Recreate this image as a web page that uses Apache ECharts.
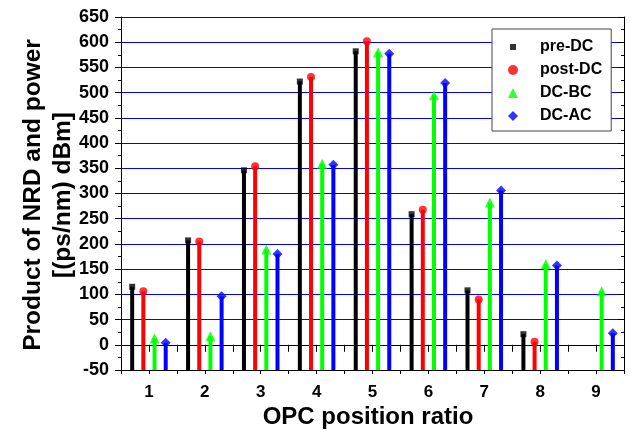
<!DOCTYPE html>
<html>
<head>
<meta charset="utf-8">
<script src="https://cdn.jsdelivr.net/npm/echarts@6/dist/echarts.min.js"></script>
<style>html,body{margin:0;padding:0;background:#fff}#c{width:631px;height:432px}</style>
</head>
<body>
<div id="c"></div>
<script>
const positions = [1, 2, 3, 4, 5, 6, 7, 8, 9];
const preDC  = [115, 207, 346, 522, 582, 259, 108, 21, null];
const postDC = [106, 205, 354, 531, 602, 268, 90, 6, null];
const dcBC   = [13, 17, 189, 359, 580, 495, 282, 160, 106];
const dcAC   = [4, 96, 180, 357, 577, 519, 306, 157, 23];
const yTicks = {min: -50, max: 650, step: 50};
const xTicks = {min: 0.5, max: 9.5, step: 0.5};

const squareIcon = 'image://data:image/svg+xml;utf8,' + encodeURIComponent(
  '<svg xmlns="http://www.w3.org/2000/svg" width="10" height="10"><rect x="2" y="2" width="6" height="6" fill="#000"/></svg>');

const defs = [
  {name: 'pre-DC', vals: preDC, off: -0.3, color: '#000000', symbol: 'rect', size: 6, w: 4, icon: squareIcon},
  {name: 'post-DC', vals: postDC, off: -0.1, color: '#ff0000', symbol: 'circle', size: 8, w: 4, icon: 'circle'},
  {name: 'DC-BC', vals: dcBC, off: 0.1, color: '#00ff00', symbol: 'triangle', size: 10, w: 4, icon: 'triangle'},
  {name: 'DC-AC', vals: dcAC, off: 0.3, color: '#0000ff', symbol: 'diamond', size: 10, w: 4, icon: 'diamond'}
];

function pairs(vals, off) {
  const out = [];
  positions.forEach((p, i) => { if (vals[i] != null) out.push([p + off, vals[i]]); });
  return out;
}

const series = [];
defs.forEach(d => {
  series.push({
    type: 'custom', name: d.name + '_stem', silent: true, z: 2,
    data: pairs(d.vals, d.off),
    renderItem: function (params, api) {
      const x = api.value(0), v = api.value(1);
      const top = api.coord([x, v]);
      const bot = api.coord([x, yTicks.min]);
      return {type: 'rect', shape: {x: top[0] - d.w / 2, y: top[1], width: d.w, height: bot[1] - top[1]},
              style: {fill: d.color}};
    }
  });
});
defs.forEach(d => {
  series.push({
    type: 'scatter', name: d.name, z: 3,
    symbol: d.symbol, symbolSize: d.size,
    itemStyle: {color: d.color},
    data: pairs(d.vals, d.off)
  });
});

const chart = echarts.init(document.getElementById('c'), null, {renderer: 'canvas'});
const font = 'Liberation Sans, Arial, sans-serif';
chart.setOption({
  animation: false,
  grid: {left: 121, right: 7, top: 17, bottom: 62, containLabel: false},
  legend: {
    data: defs.map(d => ({name: d.name, icon: d.icon})),
    orient: 'vertical', left: 492, top: 29,
    padding: [10, 9, 7, 16], itemGap: 7,
    itemWidth: 10, itemHeight: 10,
    backgroundColor: '#ffffff', borderColor: '#444444', borderWidth: 1,
    textStyle: {fontFamily: font, fontWeight: 'bold', fontSize: 16, color: '#000', lineHeight: 16, padding: [0, 0, 0, 17]}
  },
  xAxis: [{
    type: 'value', min: xTicks.min, max: xTicks.max, interval: xTicks.step,
    axisLine: {onZero: false, lineStyle: {color: '#000', width: 1}},
    axisTick: {inside: false, length: 4, lineStyle: {color: '#000'}},
    axisLabel: {margin: 14, fontFamily: font, fontWeight: 'bold', fontSize: 17, color: '#000',
      formatter: v => (Math.abs(v - Math.round(v)) < 1e-6 ? String(Math.round(v)) : '')},
    splitLine: {show: false}
  }, {
    type: 'value', position: 'top', min: xTicks.min, max: xTicks.max, interval: xTicks.step,
    axisLine: {lineStyle: {color: '#000', width: 1}},
    axisTick: {inside: true, length: 7, lineStyle: {color: '#000'}},
    axisLabel: {show: false}, splitLine: {show: false}
  }],
  yAxis: [{
    type: 'value', min: yTicks.min, max: yTicks.max, interval: yTicks.step,
    axisLine: {show: true, onZero: false, lineStyle: {color: '#000', width: 1}},
    axisTick: {show: true, inside: false, length: 6, lineStyle: {color: '#000'}},
    minorTick: {show: true, splitNumber: 2, length: 3, lineStyle: {color: '#000'}},
    axisLabel: {margin: 12, fontFamily: font, fontWeight: 'bold', fontSize: 18, color: '#000'},
    splitLine: {show: true, lineStyle: {color: '#0000ff', width: 1}}
  }, {
    type: 'value', position: 'right', min: yTicks.min, max: yTicks.max, interval: yTicks.step,
    axisLine: {show: true, onZero: false, lineStyle: {color: '#000', width: 1}},
    axisTick: {show: true, inside: true, length: 6, lineStyle: {color: '#000'}},
    minorTick: {show: true, splitNumber: 2, length: 3, lineStyle: {color: '#000'}},
    axisLabel: {show: false}, splitLine: {show: false}
  }],
  graphic: [
    {type: 'text', x: 48, y: 195, rotation: Math.PI / 2,
     style: {text: 'Product of NRD and power\n[(ps/nm) dBm]', fontFamily: font, fontWeight: 'bold', fontSize: 24.5,
             lineHeight: 30, fill: '#000', align: 'center', verticalAlign: 'middle'}},
    {type: 'text', x: 368, y: 417,
     style: {text: 'OPC position ratio', fontFamily: font, fontWeight: 'bold', fontSize: 24,
             fill: '#000', align: 'center', verticalAlign: 'middle'}}
  ],
  series: series
});
</script>
</body>
</html>
